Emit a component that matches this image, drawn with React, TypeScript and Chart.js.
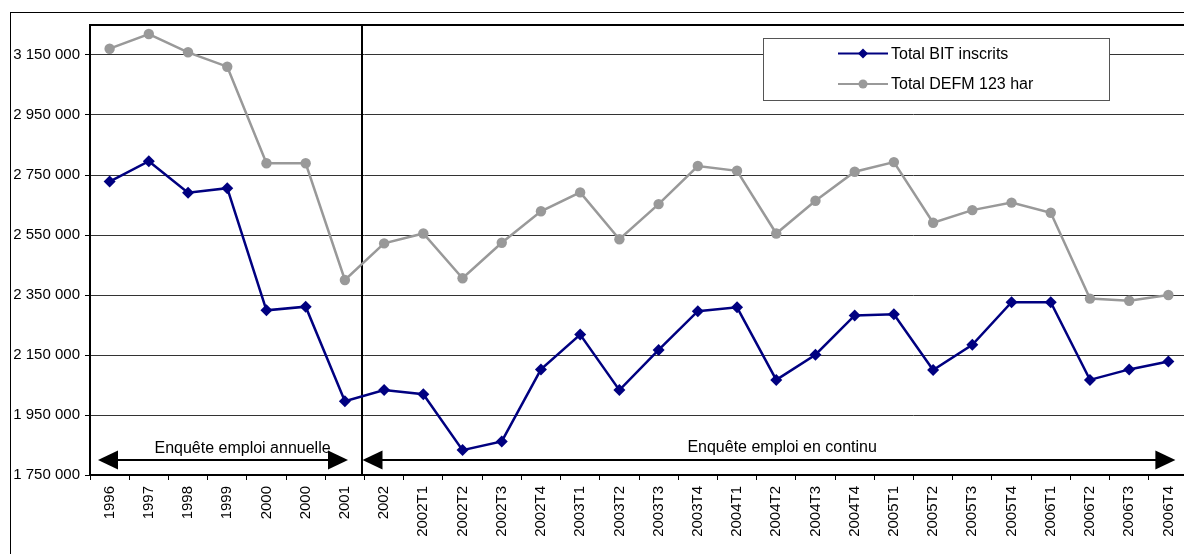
import React, { useEffect, useRef } from 'react';
import { Chart, registerables } from 'chart.js';

Chart.register(...registerables);

const FONT = '"Liberation Sans", Arial, sans-serif';

const categories = [
  '1996', '1997', '1998', '1999', '2000', '2000', '2001', '2002',
  '2002T1', '2002T2', '2002T3', '2002T4',
  '2003T1', '2003T2', '2003T3', '2003T4',
  '2004T1', '2004T2', '2004T3', '2004T4',
  '2005T1', '2005T2', '2005T3', '2005T4',
  '2006T1', '2006T2', '2006T3', '2006T4',
];

const bitInscrits = [
  2728000, 2796000, 2691000, 2706000, 2299000, 2311000, 1996000, 2033000,
  2019000, 1833000, 1862000, 2102000,
  2218000, 2033000, 2167000, 2296000,
  2309000, 2067000, 2151000, 2282000,
  2286000, 2100000, 2184000, 2326000,
  2326000, 2067000, 2102000, 2128000,
];

const defm123 = [
  3171000, 3220000, 3159000, 3111000, 2789000, 2789000, 2400000, 2522000,
  2555000, 2406000, 2524000, 2629000,
  2692000, 2536000, 2653000, 2780000,
  2764000, 2555000, 2664000, 2761000,
  2793000, 2591000, 2633000, 2658000,
  2624000, 2338000, 2331000, 2350000,
];

const seriesNames = ['Total BIT inscrits', 'Total DEFM 123 har'];

const yTickValues = [1750000, 1950000, 2150000, 2350000, 2550000, 2750000, 2950000, 3150000];
const yMin = 1750000;
const yMax = 3250000;

const periodLabels = ['Enquête emploi annuelle', 'Enquête emploi en continu'];

const fmt = (v: number) => String(Math.round(v)).replace(/\B(?=(\d{3})+(?!\d))/g, ' ');

function drawArrow(ctx: CanvasRenderingContext2D, x0: number, x1: number, y: number) {
  const hl = 20;
  const hh = 9.5;
  ctx.lineWidth = 2;
  ctx.strokeStyle = '#000';
  ctx.fillStyle = '#000';
  ctx.beginPath();
  ctx.moveTo(x0 + hl - 2, y);
  ctx.lineTo(x1 - hl + 2, y);
  ctx.stroke();
  ctx.beginPath();
  ctx.moveTo(x0, y);
  ctx.lineTo(x0 + hl, y - hh);
  ctx.lineTo(x0 + hl, y + hh);
  ctx.closePath();
  ctx.fill();
  ctx.beginPath();
  ctx.moveTo(x1, y);
  ctx.lineTo(x1 - hl, y - hh);
  ctx.lineTo(x1 - hl, y + hh);
  ctx.closePath();
  ctx.fill();
}

const overlayPlugin = {
  id: 'overlay',
  beforeDraw(chart: any) {
    const { ctx, width, height } = chart;
    ctx.save();
    ctx.fillStyle = '#fff';
    ctx.fillRect(0, 0, width, height);
    ctx.strokeStyle = '#000';
    ctx.lineWidth = 1;
    ctx.strokeRect(10.5, 12.5, width + 40, height + 40);
    ctx.restore();
  },
  beforeDatasetsDraw(chart: any) {
    const { ctx, chartArea: a } = chart;
    const xs = chart.scales.x;
    ctx.save();
    const xd = (xs.getPixelForValue(6) + xs.getPixelForValue(7)) / 2 - 2.5;
    ctx.strokeStyle = '#000';
    ctx.lineWidth = 2;
    ctx.beginPath();
    ctx.moveTo(xd, a.top);
    ctx.lineTo(xd, a.bottom);
    ctx.stroke();
    ctx.strokeRect(a.left, a.top, a.right - a.left, a.bottom - a.top);
    ctx.restore();
  },
  afterDatasetsDraw(chart: any) {
    const { ctx, chartArea: a } = chart;
    const xs = chart.scales.x;
    const step = xs.getPixelForValue(1) - xs.getPixelForValue(0);
    const xd = (xs.getPixelForValue(6) + xs.getPixelForValue(7)) / 2 - 2.5;
    const ay = a.bottom - 15;
    ctx.save();
    drawArrow(ctx, a.left + 8, xd - 14, ay);
    drawArrow(ctx, xd + 0.5, xs.getPixelForValue(27) + 7, ay);
    ctx.fillStyle = '#000';
    ctx.font = `16px ${FONT}`;
    ctx.textAlign = 'center';
    ctx.textBaseline = 'alphabetic';
    ctx.fillText(periodLabels[0], xs.getPixelForValue(0) + step * 3.39, ay - 7);
    ctx.fillText(periodLabels[1], xs.getPixelForValue(0) + step * 17.15, ay - 8);
    ctx.restore();
  },
  afterDraw(chart: any) {
    const { ctx } = chart;
    const ds = chart.data.datasets;
    ctx.save();
    const bx = 763.5, by = 38.5, bw = 346, bh = 62;
    ctx.fillStyle = '#fff';
    ctx.fillRect(bx, by, bw, bh);
    ctx.strokeStyle = '#555';
    ctx.lineWidth = 1;
    ctx.strokeRect(bx, by, bw, bh);
    const rows = [53.5, 84];
    ds.forEach((d: any, i: number) => {
      const y = rows[i];
      ctx.strokeStyle = d.borderColor;
      ctx.lineWidth = 2;
      ctx.beginPath();
      ctx.moveTo(838, y);
      ctx.lineTo(888, y);
      ctx.stroke();
      ctx.fillStyle = d.borderColor;
      ctx.beginPath();
      if (d.pointStyle === 'rectRot') {
        const r = 5;
        ctx.moveTo(863, y - r);
        ctx.lineTo(863 + r, y);
        ctx.lineTo(863, y + r);
        ctx.lineTo(863 - r, y);
        ctx.closePath();
      } else {
        ctx.arc(863, y, 4.5, 0, Math.PI * 2);
      }
      ctx.fill();
      ctx.fillStyle = '#000';
      ctx.font = `16px ${FONT}`;
      ctx.textAlign = 'left';
      ctx.textBaseline = 'middle';
      ctx.fillText(d.label, 891, y + 1);
    });
    ctx.restore();
  },
};

const W = 1188;
const H = 554;

export default function App() {
  const canvasRef = useRef<HTMLCanvasElement | null>(null);

  useEffect(() => {
    const canvas = canvasRef.current;
    if (!canvas) return;
    const chart = new Chart(canvas, {
      type: 'line',
      data: {
        labels: categories,
        datasets: [
          {
            label: seriesNames[0],
            data: bitInscrits,
            borderColor: '#000080',
            backgroundColor: '#000080',
            borderWidth: 2.5,
            pointStyle: 'rectRot',
            pointRadius: 6,
            pointHoverRadius: 6,
            pointBorderWidth: 0,
            pointBackgroundColor: '#000080',
            tension: 0,
          },
          {
            label: seriesNames[1],
            data: defm123,
            borderColor: '#999999',
            backgroundColor: '#999999',
            borderWidth: 2.5,
            pointStyle: 'circle',
            pointRadius: 5.2,
            pointHoverRadius: 5.2,
            pointBorderWidth: 0,
            pointBackgroundColor: '#999999',
            tension: 0,
          },
        ],
      },
      options: {
        animation: false,
        responsive: false,
        maintainAspectRatio: false,
        devicePixelRatio: 1,
        layout: { autoPadding: false, padding: { top: 25, left: 0, right: 0, bottom: 0 } },
        plugins: {
          legend: { display: false },
          tooltip: { enabled: false },
        },
        scales: {
          x: {
            type: 'category',
            offset: true,
            border: { display: false },
            grid: {
              offset: true,
              drawOnChartArea: false,
              drawTicks: true,
              tickLength: 5,
              tickColor: '#000',
              tickWidth: 1,
            },
            ticks: {
              autoSkip: false,
              maxRotation: 90,
              minRotation: 90,
              padding: 6,
              color: '#000',
              font: { family: FONT, size: 15 },
            },
            afterFit: (s: any) => {
              s.height = 79;
              s.paddingLeft = 0;
              s.paddingRight = 0;
            },
          },
          y: {
            type: 'linear',
            min: yMin,
            max: yMax,
            border: { display: false },
            grid: {
              color: '#333',
              lineWidth: 1,
              drawTicks: true,
              tickLength: 5,
              tickColor: '#000',
            },
            ticks: {
              padding: 5,
              color: '#000',
              font: { family: FONT, size: 15 },
              callback: (v: any) => fmt(Number(v)),
            },
            afterBuildTicks: (s: any) => {
              s.ticks = yTickValues.map((v) => ({ value: v }));
            },
            afterFit: (s: any) => {
              s.width = 90;
            },
          },
        },
      },
      plugins: [overlayPlugin],
    });
    return () => chart.destroy();
  }, []);

  return (
    <div style={{ position: 'fixed', left: 0, top: 0, width: W, height: H, background: '#fff', overflow: 'hidden' }}>
      <canvas ref={canvasRef} width={W} height={H} style={{ display: 'block', width: W, height: H }} />
    </div>
  );
}
